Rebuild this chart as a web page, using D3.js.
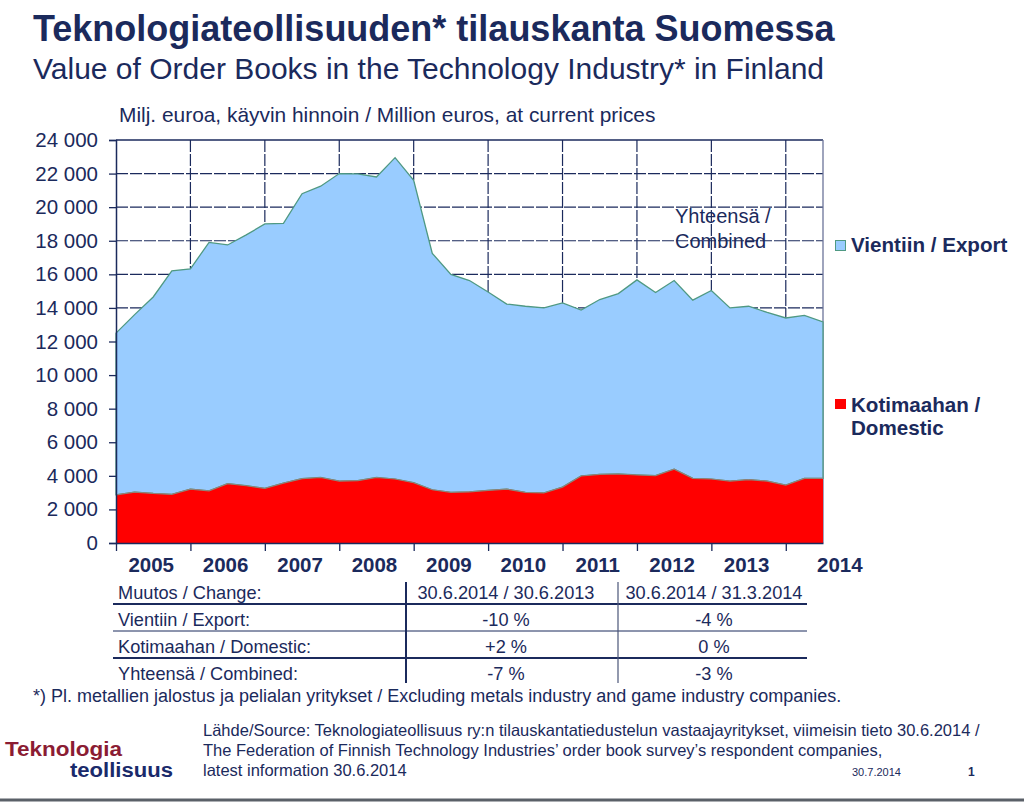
<!DOCTYPE html>
<html>
<head>
<meta charset="utf-8">
<script src="https://cdn.jsdelivr.net/npm/d3@7"></script>
<style>
  body { margin: 0; background: #ffffff; }
  svg { display: block; font-family: "Liberation Sans", Arial, sans-serif; }
</style>
</head>
<body>
<div id="chart"></div>
<script>
// Quarter end dates (categories)
const quarters = [
  "31.12.2004",
  "31.3.2005", "30.6.2005", "30.9.2005", "31.12.2005",
  "31.3.2006", "30.6.2006", "30.9.2006", "31.12.2006",
  "31.3.2007", "30.6.2007", "30.9.2007", "31.12.2007",
  "31.3.2008", "30.6.2008", "30.9.2008", "31.12.2008",
  "31.3.2009", "30.6.2009", "30.9.2009", "31.12.2009",
  "31.3.2010", "30.6.2010", "30.9.2010", "31.12.2010",
  "31.3.2011", "30.6.2011", "30.9.2011", "31.12.2011",
  "31.3.2012", "30.6.2012", "30.9.2012", "31.12.2012",
  "31.3.2013", "30.6.2013", "30.9.2013", "31.12.2013",
  "31.3.2014", "30.6.2014"
];

// Kotimaahan / Domestic, million euros
const domestic = [
  2870,
  3030, 2950, 2900, 3210,
  3110, 3530, 3410, 3250,
  3570, 3830, 3900, 3690,
  3710, 3900, 3810, 3590,
  3170, 3020, 3050, 3130,
  3210, 3020, 2980, 3330,
  3990, 4090, 4110, 4050,
  4010, 4400, 3850, 3810,
  3690, 3780, 3690, 3450,
  3850, 3850
];

// Vientiin / Export, million euros
const exportOrders = [
  9630,
  10570, 11700, 13300, 13120,
  14790, 14220, 14940, 15750,
  15460, 16970, 17350, 18310,
  18270, 17900, 19140, 18010,
  14080, 12980, 12580, 11820,
  11020, 11080, 11020, 10970,
  9880, 10410, 10740, 11620,
  10910, 11230, 10610, 11230,
  10310, 10320, 10040, 9950,
  9700, 9320
];

const yearLabels = ["2005", "2006", "2007", "2008", "2009", "2010", "2011", "2012", "2013", "2014"];
const yTicks = [0, 2000, 4000, 6000, 8000, 10000, 12000, 14000, 16000, 18000, 20000, 22000, 24000];

const seriesNames = ["Vientiin / Export", "Kotimaahan / Domestic"];

const tableHead = ["Muutos / Change:", "30.6.2014 / 30.6.2013", "30.6.2014 / 31.3.2014"];
const tableRows = [
  ["Vientiin / Export:", "-10 %", "-4 %"],
  ["Kotimaahan / Domestic:", "+2 %", "0 %"],
  ["Yhteensä / Combined:", "-7 %", "-3 %"]
];

const title = "Teknologiateollisuuden* tilauskanta Suomessa";
const subtitle = "Value of Order Books in the Technology Industry* in Finland";
const unitLabel = "Milj. euroa, käyvin hinnoin / Million euros, at current prices";
const footnote = "*) Pl. metallien jalostus ja pelialan yritykset / Excluding metals industry and game industry companies.";
const sourceLines = [
  "Lähde/Source: Teknologiateollisuus ry:n tilauskantatiedustelun vastaajayritykset, viimeisin tieto 30.6.2014 /",
  "The Federation of Finnish Technology Industries’ order book survey’s respondent companies,",
  "latest information 30.6.2014"
];

//---------------------------------------------------------------------------------------

const navy = "#1b2a5c";
const width = 1024;
const height = 802;
const plot = { left: 116, right: 823, top: 140, bottom: 543 };

const svg = d3.select("#chart")
  .append("svg")
  .attr("width", width)
  .attr("height", height)
  .attr("viewBox", [0, 0, width, height]);

// titles
svg.append("text")
  .attr("x", 33).attr("y", 41)
  .attr("font-size", 36).attr("font-weight", "bold")
  .attr("fill", navy)
  .text(title);

svg.append("text")
  .attr("x", 33).attr("y", 79)
  .attr("font-size", 30)
  .attr("fill", navy)
  .text(subtitle);

svg.append("text")
  .attr("x", 119).attr("y", 122)
  .attr("font-size", 20.9)
  .attr("fill", navy)
  .text(unitLabel);

//---------------------------------------------------------------------------------------

// scales
const x = d3.scalePoint()
  .domain(quarters)
  .range([plot.left, plot.right]);

const y = d3.scaleLinear()
  .domain([0, 24000])
  .range([plot.bottom, plot.top]);

const fmt = d3.formatLocale({ decimal: ",", thousands: " ", grouping: [3], currency: ["", " €"] }).format(",");

// stacked data
const table = quarters.map((q, i) => ({ q: q, domestic: domestic[i], export: exportOrders[i] }));
const stacked = d3.stack().keys(["domestic", "export"])(table);

// grid
const grid = svg.append("g");

grid.selectAll("line.h")
  .data(yTicks.filter(d => d > 0 && d < 24000))
  .join("line")
  .attr("class", "h")
  .attr("x1", plot.left).attr("x2", plot.right)
  .attr("y1", d => y(d)).attr("y2", d => y(d))
  .attr("stroke", navy)
  .attr("stroke-width", 1.2)
  .attr("stroke-dasharray", "12,2");

const yearTicks = quarters.filter((q, i) => i % 4 === 0);

grid.selectAll("line.v")
  .data(yearTicks.slice(1))
  .join("line")
  .attr("class", "v")
  .attr("x1", d => x(d)).attr("x2", d => x(d))
  .attr("y1", plot.top).attr("y2", plot.bottom)
  .attr("stroke", navy)
  .attr("stroke-width", 1.2)
  .attr("stroke-dasharray", "12,2");

// top and right frame
svg.append("line")
  .attr("x1", plot.left).attr("x2", plot.right)
  .attr("y1", y(24000)).attr("y2", y(24000))
  .attr("stroke", navy).attr("stroke-width", 1.3);

svg.append("line")
  .attr("x1", plot.right).attr("x2", plot.right)
  .attr("y1", plot.top).attr("y2", plot.bottom)
  .attr("stroke", "#6b7399").attr("stroke-width", 1.3);

//---------------------------------------------------------------------------------------

// areas
const area = d3.area()
  .x(d => x(d.data.q))
  .y0(d => y(d[0]))
  .y1(d => y(d[1]));

svg.append("path")
  .datum(stacked[1])
  .attr("d", area)
  .attr("fill", "#99ccff")
  .attr("stroke", "#4f9983")
  .attr("stroke-width", 1.3);

svg.append("path")
  .datum(stacked[0])
  .attr("d", area)
  .attr("fill", "#ff0000")
  .attr("stroke", "none");

// redraw the boundary between the areas
svg.append("path")
  .datum(stacked[0])
  .attr("d", d3.line().x(d => x(d.data.q)).y(d => y(d[1])))
  .attr("fill", "none")
  .attr("stroke", "#8f8378")
  .attr("stroke-width", 1.2);

//---------------------------------------------------------------------------------------

// y axis
const yAxis = svg.append("g")
  .attr("transform", `translate(${plot.left},0)`)
  .call(d3.axisLeft(y).tickValues(yTicks).tickFormat(fmt).tickSize(7).tickPadding(11));

yAxis.select(".domain").attr("stroke", navy).attr("stroke-width", 1.5);
yAxis.selectAll(".tick line").attr("stroke", navy).attr("stroke-width", 1.3);
yAxis.selectAll(".tick text")
  .attr("fill", navy)
  .attr("font-size", 20.5)
  .attr("font-family", "Liberation Sans, Arial, sans-serif");

// x axis
const xAxis = svg.append("g")
  .attr("transform", `translate(0,${plot.bottom})`)
  .call(d3.axisBottom(x).tickValues(yearTicks).tickFormat("").tickSize(8).tickSizeOuter(0));

xAxis.select(".domain").attr("stroke", navy).attr("stroke-width", 1.5);
xAxis.selectAll(".tick line").attr("stroke", navy).attr("stroke-width", 1.3);

const yearStep = x.step() * 4;

svg.append("g")
  .selectAll("text")
  .data(yearLabels)
  .join("text")
  .attr("x", (d, i) => i < yearLabels.length - 1 ? x(yearTicks[i]) + yearStep / 2 - 2 : plot.right - 6)
  .attr("y", 572)
  .attr("text-anchor", (d, i) => i < yearLabels.length - 1 ? "middle" : "start")
  .attr("font-size", 20.5)
  .attr("font-weight", "bold")
  .attr("fill", navy)
  .text(d => d);

// annotation
const note = svg.append("text")
  .attr("x", 675).attr("y", 223)
  .attr("font-size", 20)
  .attr("fill", navy);
note.append("tspan").attr("x", 675).text("Yhteensä /");
note.append("tspan").attr("x", 675).attr("dy", 25).text("Combined");

//---------------------------------------------------------------------------------------

// legend
const legend = svg.append("g");

legend.append("rect")
  .attr("x", 835.5).attr("y", 240.5).attr("width", 10).attr("height", 10)
  .attr("fill", "#99ccff").attr("stroke", "#4f9983");

legend.append("text")
  .attr("x", 851).attr("y", 252)
  .attr("font-size", 20.6).attr("font-weight", "bold").attr("fill", navy)
  .text(seriesNames[0]);

legend.append("rect")
  .attr("x", 835).attr("y", 399).attr("width", 11).attr("height", 10)
  .attr("fill", "#ff0000");

const legDom = legend.append("text")
  .attr("x", 851).attr("y", 412)
  .attr("font-size", 20.6).attr("font-weight", "bold").attr("fill", navy);
legDom.append("tspan").attr("x", 851).text("Kotimaahan /");
legDom.append("tspan").attr("x", 851).attr("dy", 23).text("Domestic");

//---------------------------------------------------------------------------------------

// change table
const tbl = svg.append("g").attr("font-size", 18.2).attr("fill", navy);
const colX = [118, 506, 714];
const rowY = [599, 626, 653, 680];
const allRows = [tableHead].concat(tableRows);

allRows.forEach((row, r) => {
  row.forEach((cell, c) => {
    tbl.append("text")
      .attr("x", colX[c])
      .attr("y", rowY[r])
      .attr("text-anchor", c === 0 ? "start" : "middle")
      .text(cell);
  });
});

[[604, 2], [631, 1], [658, 2]].forEach(([ly, w]) => {
  tbl.append("line")
    .attr("x1", 113).attr("x2", 807)
    .attr("y1", ly).attr("y2", ly)
    .attr("stroke", navy).attr("stroke-width", w);
});

tbl.append("line")
  .attr("x1", 406).attr("x2", 406).attr("y1", 582).attr("y2", 683)
  .attr("stroke", navy).attr("stroke-width", 2);
tbl.append("line")
  .attr("x1", 618).attr("x2", 618).attr("y1", 582).attr("y2", 683)
  .attr("stroke", "#4a5578").attr("stroke-width", 1.2);

// footnote and source
svg.append("text")
  .attr("x", 33).attr("y", 702)
  .attr("font-size", 18)
  .attr("fill", navy)
  .text(footnote);

svg.append("g")
  .selectAll("text")
  .data(sourceLines)
  .join("text")
  .attr("x", 203)
  .attr("y", (d, i) => 736 + i * 20)
  .attr("font-size", 16.5)
  .attr("fill", navy)
  .text(d => d);

svg.append("text")
  .attr("x", 852).attr("y", 776)
  .attr("font-size", 11).attr("fill", navy)
  .text("30.7.2014");

svg.append("text")
  .attr("x", 968).attr("y", 776)
  .attr("font-size", 12).attr("font-weight", "bold").attr("fill", navy)
  .text("1");

// logo
svg.append("text")
  .attr("x", 5).attr("y", 756)
  .attr("font-size", 20).attr("font-weight", "bold").attr("fill", "#8b1c33")
  .attr("textLength", 117).attr("lengthAdjust", "spacingAndGlyphs")
  .text("Teknologia");

svg.append("text")
  .attr("x", 70).attr("y", 777)
  .attr("font-size", 20).attr("font-weight", "bold").attr("fill", "#1a2a6b")
  .attr("textLength", 103).attr("lengthAdjust", "spacingAndGlyphs")
  .text("teollisuus");

// bottom rule
svg.append("line")
  .attr("x1", 0).attr("x2", width)
  .attr("y1", 800).attr("y2", 800)
  .attr("stroke", "#5a6068").attr("stroke-width", 3);
</script>
</body>
</html>
